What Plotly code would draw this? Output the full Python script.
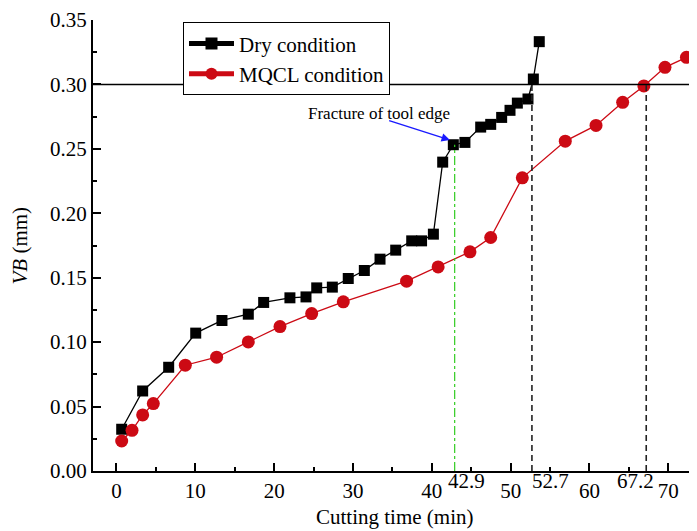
import plotly.graph_objects as go

# ---- data ----
dry_time = [0.66, 3.32, 6.62, 10.05, 13.38, 16.72, 18.67, 22.0, 24.04, 25.4, 27.38,
            29.4, 31.44, 33.43, 35.42, 37.45, 38.7, 40.2, 41.38, 42.73, 44.2, 46.2,
            47.47, 48.86, 49.92, 50.85, 52.2, 52.88, 53.63]
dry_vb = [0.0324, 0.0621, 0.0805, 0.107, 0.1168, 0.1217, 0.1308, 0.1344, 0.1351, 0.1421,
          0.1427, 0.1494, 0.1556, 0.1644, 0.1714, 0.1786, 0.1786, 0.1838, 0.2397, 0.2532,
          0.255, 0.2669, 0.269, 0.2744, 0.2799, 0.2855, 0.2887, 0.3042, 0.3332]

mqcl_time = [0.66, 1.97, 3.32, 4.67, 8.73, 12.7, 16.72, 20.74, 24.76, 28.77, 36.8,
             40.8, 44.84, 47.47, 51.48, 56.93, 60.83, 64.21, 66.9, 69.58, 72.3]
mqcl_vb = [0.0233, 0.0316, 0.0435, 0.0523, 0.0821, 0.0883, 0.1002, 0.1121, 0.1222,
           0.1313, 0.1473, 0.1584, 0.1701, 0.1812, 0.2275, 0.256, 0.2682, 0.2861,
           0.2988, 0.3133, 0.321]

vb_limit = 0.30
fracture_time = 42.9
fracture_vb = 0.2532
life_times = [52.7, 67.2]
special_labels = ["42.9", "52.7", "67.2"]
special_values = [42.9, 52.7, 67.2]
label_offsets = [1.45, 2.4, -1.3]

x_ticks = [0, 10, 20, 30, 40, 50, 60, 70]
y_ticks = [0.00, 0.05, 0.10, 0.15, 0.20, 0.25, 0.30, 0.35]

FONT = "Liberation Serif"
RED = "#cc0a14"

fig = go.Figure()

# horizontal VB limit line
fig.add_shape(type="line", xref="paper", x0=0, x1=1, yref="y", y0=vb_limit, y1=vb_limit,
              line=dict(color="black", width=1.6))
# vertical dashed tool-life lines
for t in life_times:
    fig.add_shape(type="line", xref="x", x0=t, x1=t, yref="y", y0=0, y1=vb_limit,
                  line=dict(color="#222222", width=1.6, dash="6px,4px"))
# fracture dash-dot line
fig.add_shape(type="line", xref="x", x0=fracture_time, x1=fracture_time, yref="y",
              y0=0, y1=fracture_vb, line=dict(color="#33cc22", width=1.2, dash="dashdot"))

fig.add_trace(go.Scatter(x=dry_time, y=dry_vb, mode="lines+markers", name="Dry condition",
                         line=dict(color="black", width=1.3),
                         marker=dict(symbol="square", size=11, color="black")))
fig.add_trace(go.Scatter(x=mqcl_time, y=mqcl_vb, mode="lines+markers", name="MQCL condition",
                         line=dict(color=RED, width=1.3),
                         marker=dict(symbol="circle", size=13, color=RED)))

# annotation for fracture
fig.add_annotation(x=33.3, y=0.2778, xref="x", yref="y", text="Fracture of tool edge",
                   showarrow=False, font=dict(family=FONT, size=17, color="black"))
fig.add_annotation(x=42.3, y=0.2568, xref="x", yref="y", ax=34.4, ay=0.2723,
                   axref="x", ayref="y", text="", showarrow=True, arrowhead=2,
                   arrowsize=1.2, arrowwidth=1.4, arrowcolor="#1a1aff")

# special x labels
for lab, v, off in zip(special_labels, special_values, label_offsets):
    fig.add_annotation(x=v + off, y=0, xref="x", yref="paper", text=lab, showarrow=False,
                       yanchor="middle", yshift=-9.5, font=dict(family=FONT, size=21, color="black"))

# axis titles
fig.add_annotation(x=0.5, y=0, xref="paper", yref="paper", text="Cutting time (min)",
                   showarrow=False, yanchor="middle", yshift=-46,
                   font=dict(family=FONT, size=21, color="black"))
fig.add_annotation(x=0, y=0.5, xref="paper", yref="paper", text="<i>VB</i> (mm)",
                   showarrow=False, textangle=-90, xanchor="center", xshift=-74,
                   font=dict(family=FONT, size=21, color="black"))

# page body has an 8px margin, so the figure is sized to fit the 697x531 window
fig.update_layout(
    width=689, height=523,
    margin=dict(l=85, r=0, t=12, b=60),
    paper_bgcolor="white", plot_bgcolor="white",
    font=dict(family=FONT, size=21, color="black"),
    showlegend=True,
    legend=dict(x=0.149, y=0.995, xanchor="left", yanchor="top",
                bordercolor="black", borderwidth=1, bgcolor="white", itemwidth=45,
                font=dict(family=FONT, size=21), tracegroupgap=0, itemsizing="constant"),
)
fig.update_xaxes(range=[-2.98, 73.64], tickvals=x_ticks, ticks="inside", ticklen=8, tickwidth=1.5,
                 tickcolor="black", showline=True, linecolor="black", linewidth=2,
                 showgrid=False, zeroline=False, mirror=False,
                 minor=dict(dtick=5, tick0=0, ticks="inside", ticklen=4, tickwidth=1.5, tickcolor="black"))
fig.update_yaxes(range=[0, 0.35], tickvals=y_ticks, tickformat=".2f", ticks="inside", ticklen=8,
                 tickwidth=1.5, tickcolor="black", showline=True, linecolor="black", linewidth=2,
                 showgrid=False, zeroline=False, mirror=False,
                 minor=dict(dtick=0.025, tick0=0, ticks="inside", ticklen=4, tickwidth=1.5,
                            tickcolor="black"))

fig.write_html("out.html")
